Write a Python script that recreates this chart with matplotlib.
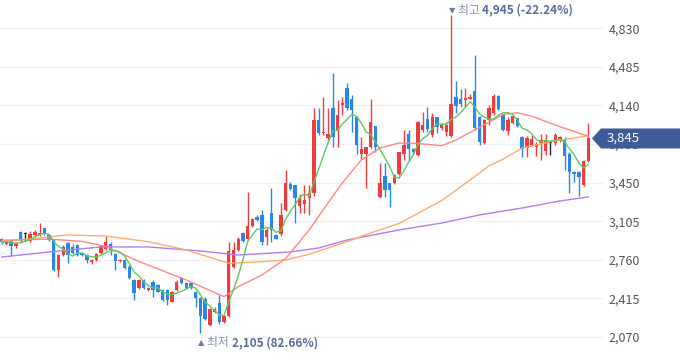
import numpy as np
import pandas as pd
import matplotlib
matplotlib.use("Agg")
import matplotlib.pyplot as plt
from matplotlib.patches import Polygon

plt.rcParams['font.family'] = ['Noto Sans CJK KR', 'DejaVu Sans']

# daily candles (open, high, low, close)
opens = [2945, 2905, 2930, 2880, 3010, 2990, 2925, 2985, 2985, 3040,
         2980, 2935, 2670, 2800, 2910, 2875, 2895, 2820, 2800, 2740,
         2755, 2820, 2860, 2905, 2815, 2745, 2760, 2700, 2580, 2505,
         2580, 2490, 2565, 2535, 2490, 2490, 2386, 2490, 2600, 2550,
         2550, 2475, 2420, 2410, 2180, 2290, 2370, 2205, 2255, 2700,
         2850, 3000, 2950, 3065, 3145, 3160, 2965, 3175, 2980, 2995,
         3205, 3440, 3425, 3240, 3260, 3310, 3355, 4010, 3890, 3845,
         4115, 3920, 4145, 4295, 4195, 4035, 3710, 3710, 3770, 3955,
         3320, 3510, 3450, 3450, 3525, 3705, 3885, 3750, 3700, 3920,
         4020, 3875, 4035, 3935, 3905, 3865, 4215, 4195, 4185, 4200,
         4270, 4040, 3800, 4010, 4070, 4225, 4055, 3910, 3985, 4025,
         3860, 3760, 3790, 3770, 3800, 3730, 3800, 3800, 3820, 3830,
         3710, 3545, 3545, 3430, 3640]
highs = [2955, 2940, 2940, 2915, 3020, 3005, 3020, 3030, 3090, 3045,
         2990, 2945, 2810, 2890, 2920, 2900, 2905, 2830, 2810, 2765,
         2825, 2890, 2970, 2920, 2825, 2770, 2770, 2710, 2590, 2590,
         2590, 2515, 2580, 2545, 2500, 2500, 2480, 2575, 2610, 2560,
         2560, 2480, 2425, 2425, 2330, 2335, 2445, 2265, 2920, 2920,
         2965, 3010, 3370, 3135, 3160, 3205, 3040, 3400, 2990, 3265,
         3565, 3460, 3430, 3350, 3425, 3425, 4115, 4115, 4220, 4115,
         4430, 4190, 4220, 4340, 4230, 4050, 3860, 3770, 4195, 3960,
         3625, 3625, 3450, 3530, 3725, 3920, 3920, 3760, 4000, 4085,
         4125, 4075, 4040, 3985, 3995, 4945, 4360, 4290, 4295, 4240,
         4590, 4045, 4015, 4140, 4240, 4235, 4060, 4040, 4055, 4030,
         3870, 3870, 3880, 3815, 3885, 3885, 3835, 3890, 3870, 3860,
         3720, 3550, 3550, 3650, 3980]
lows = [2905, 2895, 2790, 2870, 2915, 2930, 2915, 2975, 2975, 2985,
        2925, 2660, 2605, 2790, 2730, 2810, 2790, 2790, 2730, 2725,
        2745, 2810, 2850, 2800, 2670, 2740, 2675, 2585, 2400, 2495,
        2495, 2480, 2430, 2470, 2390, 2355, 2380, 2480, 2540, 2500,
        2495, 2341, 2105, 2220, 2170, 2280, 2190, 2195, 2245, 2690,
        2840, 2915, 2940, 3055, 3105, 2890, 2890, 2920, 2945, 2970,
        3195, 3380, 3090, 3175, 3175, 3165, 3330, 3880, 3880, 3830,
        3765, 3770, 4055, 4100, 3905, 3710, 3665, 3400, 3760, 3725,
        3310, 3320, 3235, 3440, 3520, 3650, 3640, 3710, 3690, 3900,
        3900, 3860, 3890, 3925, 3870, 3860, 4070, 4130, 4130, 4195,
        3920, 3785, 3795, 3965, 4055, 4100, 3915, 3880, 3975, 3950,
        3680, 3680, 3780, 3685, 3650, 3700, 3700, 3790, 3810, 3560,
        3355, 3460, 3330, 3420, 3635]
closes = [2915, 2930, 2885, 2905, 2925, 2990, 2995, 3010, 3000, 2995,
          2935, 2670, 2800, 2875, 2800, 2820, 2805, 2800, 2755, 2755,
          2815, 2880, 2920, 2845, 2745, 2760, 2685, 2595, 2460, 2580,
          2505, 2505, 2490, 2475, 2400, 2400, 2475, 2565, 2550, 2505,
          2505, 2416, 2260, 2230, 2320, 2320, 2200, 2255, 2835, 2850,
          2950, 2925, 3060, 3125, 3115, 2920, 3025, 3025, 2950, 3160,
          3445, 3390, 3310, 3300, 3295, 3355, 4010, 3890, 3905, 3885,
          3860, 4055, 4165, 4115, 4100, 3785, 3755, 3765, 3995, 3765,
          3450, 3380, 3380, 3520, 3720, 3785, 3750, 3720, 3995, 3965,
          3930, 4040, 3950, 3975, 3965, 4155, 4135, 4155, 4205, 4215,
          3935, 3815, 4010, 4115, 4225, 4105, 3920, 4010, 4045, 3955,
          3755, 3845, 3840, 3795, 3830, 3830, 3800, 3875, 3860, 3690,
          3545, 3530, 3500, 3640, 3845]

# moving average lines (candle index, price)
ma20_idx = [0, 10, 17, 22, 29, 39, 47, 50, 55, 60, 65, 69, 72, 76, 80, 84, 88, 93, 96, 99, 103, 106,
            109, 112, 118, 124]
ma20_val = [2935, 2945, 2925, 2880, 2745, 2580, 2430, 2520, 2624, 2770, 3027, 3270, 3447, 3652, 3760, 3804,
            3800, 3780, 3830, 3900, 3990, 4060, 4075, 4045, 3950, 3865]
ma60_idx = [0, 14, 22, 31, 39, 48, 55, 60, 65, 73, 78, 84, 93, 99, 103, 106, 110, 116, 124]
ma60_val = [2922, 2982, 2973, 2922, 2848, 2729, 2743, 2758, 2810, 2922, 3000, 3085, 3290, 3474, 3600, 3660,
            3760, 3815, 3870]
ma120_idx = [0, 10, 21, 31, 42, 50, 61, 67, 73, 84, 93, 101, 110, 118, 124]
ma120_val = [2785, 2830, 2875, 2875, 2839, 2803, 2830, 2866, 2937, 3027, 3089, 3161, 3223, 3286, 3322]

yticks = [2070, 2415, 2760, 3105, 3450, 3795, 4140, 4485, 4830]

df = pd.DataFrame({'open': opens, 'high': highs, 'low': lows, 'close': closes})
df['ma5'] = df['close'].rolling(5, min_periods=1).mean()
x = np.arange(len(df))

RED = '#f03c3c'
BLUE = '#2a86e8'

fig = plt.figure(figsize=(6.8, 3.58), dpi=100)
ax = fig.add_axes([0, 0, 603 / 680, 1])

for t in yticks:
    ax.axhline(t, color='#eef0f6', lw=0.8, zorder=0)

# candle colours: up red, down blue, doji black
cols = []
for o, c in zip(df['open'], df['close']):
    if c > o:
        cols.append(RED)
    elif c < o:
        cols.append(BLUE)
    else:
        cols.append('#222222')

ax.vlines(x, df['low'], df['high'], colors=cols, lw=1.0, zorder=2)
bottoms = np.minimum(df['open'], df['close'])
heights = np.maximum(np.abs(df['close'] - df['open']), 10)
ax.bar(x, heights, bottom=bottoms, width=0.72, color=cols, zorder=3)

ax.plot(ma120_idx, ma120_val, color='#b47cf0', lw=1.0, zorder=4)
ax.plot(ma60_idx, ma60_val, color='#ffab66', lw=1.0, zorder=4)
ax.plot(ma20_idx, ma20_val, color='#ff8585', lw=1.0, zorder=4)
ax.plot(x, df['ma5'], color='#5ccc5c', lw=1.0, zorder=5)

ax.set_xlim(-0.36, 127.1)
ax.set_ylim(1882, 5083)
ax.set_yticks(yticks)
ax.set_yticklabels([f'{t:,}' for t in yticks])
ax.yaxis.tick_right()
ax.tick_params(axis='y', length=0, pad=4, labelsize=9, labelcolor='#555555')
ax.set_xticks([])
for s in ax.spines.values():
    s.set_visible(False)

# high / low markers
hi_i = int(np.argmax(df['high']))
lo_i = int(np.argmin(df['low']))
hi = df['high'][hi_i]
lo = df['low'][lo_i]
last = df['close'].iloc[-1]

for idx, yf, sym, lab, val, pct in [
        (hi_i, 0.972, '▼', '최고 ', hi, (last - hi) / hi * 100),
        (lo_i, 0.042, '▲', '최저 ', lo, (last - lo) / lo * 100)]:
    tri = ax.text(idx - 0.5, yf, sym + ' ', transform=ax.get_xaxis_transform(),
                  ha='left', va='center', fontsize=6, color='#6f7ca3', family='DejaVu Sans')
    t1 = ax.annotate(lab, xy=(1, 0.5), xycoords=tri, ha='left', va='center',
                     fontsize=8.5, color='#8a93ad')
    ax.annotate(f'{val:,} ({pct:.2f}%)', xy=(1, 0.5), xycoords=t1,
                ha='left', va='center', fontsize=8.5, color='#5a6b9e', fontweight='bold')

# current price tag on the right axis
W, H = 680, 358
yc = ax.transData.transform((0, last))[1]
pts = [(592, yc), (601, yc + 10), (680, yc + 10), (680, yc - 10), (601, yc - 10)]
tag = Polygon([(px / W, py / H) for px, py in pts], closed=True,
              transform=fig.transFigure, facecolor='#3f5b9b', edgecolor='none', zorder=10)
fig.add_artist(tag)
fig.text(607 / W, yc / H, f'{last:,}', color='white', fontsize=9.5, ha='left', va='center', zorder=11)

fig.savefig('out.png', dpi=100)
